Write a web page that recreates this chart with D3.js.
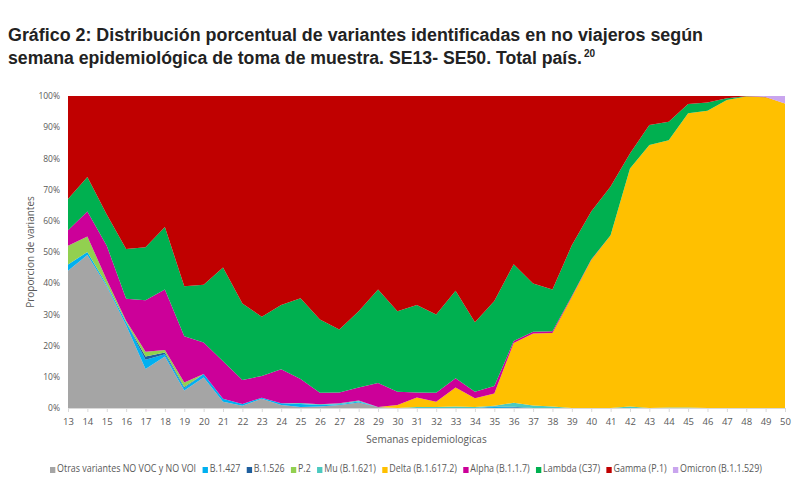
<!DOCTYPE html>
<html>
<head>
<meta charset="utf-8">
<script src="https://cdn.jsdelivr.net/npm/d3@7"></script>
<style>
	body { margin: 0; background: #fff; }
	svg { display: block; }
</style>
</head>
<body>
<div class="chart"></div>
<script>
// weeks 13..50
var weeks = d3.range(13, 51);

// share of each variant per week (%)
var otras   = [44, 49, 39, 26.5, 12.5, 16.5, 5.6, 9.8, 2, 0.7, 3, 1, 0.3, 0.5, 1, 1.8, 0.3, 0, 0, 0, 0, 0, 0, 0, 0, 0, 0, 0, 0, 0, 0, 0, 0, 0, 0, 0, 0, 0];
var b1427   = [2, 1, 0.5, 1, 3, 0.7, 0.8, 1.1, 1, 0.6, 0.3, 0.5, 1, 0.5, 0.2, 0.3, 0, 0, 0, 0, 0, 0, 0.3, 0.2, 0, 0, 0, 0, 0, 0, 0, 0, 0, 0, 0, 0, 0, 0];
var b1526   = [0, 0, 0, 0, 1, 0.6, 0.3, 0, 0, 0, 0, 0, 0, 0, 0, 0, 0, 0, 0, 0, 0, 0, 0.2, 0.2, 0, 0, 0, 0, 0, 0, 0, 0, 0, 0, 0, 0, 0, 0];
var p2      = [6, 5, 1.5, 0.5, 1.5, 0.8, 1.5, 0, 0, 0, 0, 0, 0, 0, 0, 0, 0, 0, 0, 0, 0, 0, 0, 0, 0, 0, 0, 0, 0, 0, 0, 0, 0, 0, 0, 0, 0, 0];
var mu      = [0, 0, 0, 0, 0, 0, 0, 0, 0, 0, 0, 0, 0.3, 0.2, 0.3, 0.3, 0, 0, 0.3, 0.3, 0.5, 0.3, 0.2, 1.3, 0.8, 0.5, 0, 0, 0, 0.5, 0, 0.2, 0.2, 0, 0, 0, 0, 0];
var delta   = [0, 0, 0, 0, 0, 0, 0, 0, 0, 0, 0, 0, 0, 0, 0, 0, 0, 1, 3.1, 1.7, 6.1, 2.8, 4, 19.2, 23, 23.5, 35.7, 47.4, 55.4, 76.3, 84.3, 85.8, 94.5, 95.3, 98.7, 99.8, 99.6, 97.6];
var alpha   = [5, 8, 11, 7, 16.5, 19.4, 14.8, 10.1, 12, 7.7, 7, 10.9, 7.7, 3.7, 3.5, 4.2, 7.7, 4.2, 1.6, 2.9, 2.9, 2.1, 2.4, 0.6, 0.6, 0.6, 0.3, 0.2, 0, 0, 0, 0, 0, 0, 0, 0, 0, 0];
var lambda  = [10, 11, 10, 16, 17, 20, 16, 18.5, 30, 24.5, 19, 20.6, 26, 23.5, 20.2, 24.4, 30, 25.8, 28, 25.1, 28.1, 22.3, 27.4, 24.7, 15.4, 13.4, 16.3, 15.4, 15.6, 4.8, 6.4, 5.9, 2.9, 2.6, 0.6, 0.1, 0, 0];
var gamma   = [33, 26, 38, 49, 48.5, 42, 61, 60.5, 55, 66.5, 71, 67, 65, 71.6, 74.8, 69, 62, 69, 67, 70, 62.4, 72.5, 66, 54, 60, 62, 48, 37, 29, 18.4, 9.3, 8.3, 2.6, 2.1, 0.7, 0.1, 0.1, 0];
var omicron = [0, 0, 0, 0, 0, 0, 0, 0, 0, 0, 0, 0, 0, 0, 0, 0, 0, 0, 0, 0, 0, 0, 0, 0, 0, 0, 0, 0, 0, 0, 0, 0, 0, 0, 0, 0, 0.3, 2.4];

var keys = ["otras", "b1427", "b1526", "p2", "mu", "delta", "alpha", "lambda", "gamma", "omicron"];
var labels = ["Otras variantes NO VOC y NO VOI", "B.1.427", "B.1.526", "P.2", "Mu (B.1.621)",
	"Delta (B.1.617.2)", "Alpha (B.1.1.7)", "Lambda (C37)", "Gamma (P.1)", "Omicron (B.1.1.529)"];
var colors = [
	"#a5a5a5", //otras
	"#00b0f0", //B.1.427
	"#1f5f9e", //B.1.526
	"#92d050", //P.2
	"#4cc9c0", //Mu
	"#ffc000", //Delta
	"#cc0099", //Alpha
	"#00b050", //Lambda
	"#c00000", //Gamma
	"#c9a5ee"  //Omicron
];
var yTicks = [0, 0.1, 0.2, 0.3, 0.4, 0.5, 0.6, 0.7, 0.8, 0.9, 1];

var series = {otras: otras, b1427: b1427, b1526: b1526, p2: p2, mu: mu, delta: delta,
	alpha: alpha, lambda: lambda, gamma: gamma, omicron: omicron};

var rows = weeks.map(function(w, i){
	var r = {week: w};
	keys.forEach(function(k){ r[k] = series[k][i]; });
	return r;
});

var w = 800, h = 492;
var svg = d3.select(".chart").append("svg")
	.attr("width", w)
	.attr("height", h);

var x = d3.scaleLinear().domain([13, 50]).range([68, 785]);
var y = d3.scaleLinear().domain([0, 1]).range([408, 96]);

var stacked = d3.stack().keys(keys).offset(d3.stackOffsetExpand)(rows);

var area = d3.area()
	.x(function(d){ return x(d.data.week); })
	.y0(function(d){ return y(d[0]); })
	.y1(function(d){ return y(d[1]); });

svg.append("g")
	.selectAll("path")
	.data(stacked)
	.enter()
	.append("path")
	.attr("d", area)
	.attr("fill", function(d, i){ return colors[i]; });

//Axes
var xAxis = svg.append("g")
	.attr("transform", "translate(0," + y(0) + ")")
	.call(d3.axisBottom(x).tickValues(weeks).tickFormat(d3.format("d")).tickSize(4).tickPadding(6));
xAxis.select(".domain").attr("stroke", "#d9d9d9");
xAxis.selectAll(".tick line").attr("stroke", "#d9d9d9");
xAxis.selectAll("text")
	.attr("fill", "#595959")
	.style("font-family", "'Liberation Sans Narrow', 'Open Sans', sans-serif")
	.style("font-size", "9.5px");

var yAxis = svg.append("g")
	.attr("transform", "translate(" + x(13) + ",0)")
	.call(d3.axisLeft(y).tickValues(yTicks).tickFormat(d3.format(".0%")).tickSize(0).tickPadding(8));
yAxis.select(".domain").remove();
yAxis.selectAll("text")
	.attr("fill", "#595959")
	.style("font-family", "'Liberation Sans Narrow', 'Open Sans', sans-serif")
	.style("font-size", "8.5px");

//Axis titles
svg.append("text")
	.text("Semanas epidemiologicas")
	.attr("x", (x(13) + x(50)) / 2)
	.attr("y", 443)
	.attr("text-anchor", "middle")
	.attr("fill", "#595959")
	.style("font-family", "'Liberation Sans Narrow', 'Open Sans', sans-serif")
	.style("font-size", "10px");

svg.append("text")
	.text("Proporcion de variantes")
	.attr("transform", "translate(34,252) rotate(-90)")
	.attr("text-anchor", "middle")
	.attr("fill", "#595959")
	.style("font-family", "'Liberation Sans Narrow', 'Open Sans', sans-serif")
	.style("font-size", "10px");

//Title
var titleStyle = function(t){
	t.attr("fill", "#222")
		.style("font-family", "'Liberation Sans', Arial, sans-serif")
		.style("font-weight", "bold")
		.style("font-size", "17.5px");
};
svg.append("text")
	.text("Gráfico 2: Distribución porcentual de variantes identificadas en no viajeros según")
	.attr("x", 8).attr("y", 41)
	.attr("textLength", 695).attr("lengthAdjust", "spacingAndGlyphs")
	.call(titleStyle);
svg.append("text")
	.text("semana epidemiológica de toma de muestra. SE13- SE50. Total país.")
	.attr("x", 8).attr("y", 64)
	.attr("textLength", 574).attr("lengthAdjust", "spacingAndGlyphs")
	.call(titleStyle);
svg.append("text")
	.text("20")
	.attr("x", 584).attr("y", 57)
	.call(titleStyle)
	.style("font-size", "10px");

//Legend
var legend = svg.append("g");
var fs = 10;
var items = legend.selectAll("g")
	.data(labels)
	.enter()
	.append("g");
items.append("rect")
	.attr("width", 6).attr("height", 6)
	.attr("y", -5)
	.attr("fill", function(d, i){ return colors[i]; });
items.append("text")
	.text(function(d){ return d; })
	.attr("x", 8)
	.attr("fill", "#595959")
	.style("font-family", "'Liberation Sans Narrow', 'Open Sans', sans-serif")
	.style("font-size", fs + "px");

var pos = 0;
items.each(function(){
	var g = d3.select(this);
	g.attr("transform", "translate(" + pos + ",0)");
	pos += 8 + g.select("text").node().getComputedTextLength() + 7;
});
var total = pos - 7;
var sx = 712 / total;
legend.attr("transform", "translate(50,472) scale(" + sx + ",1)");
</script>
</body>
</html>
